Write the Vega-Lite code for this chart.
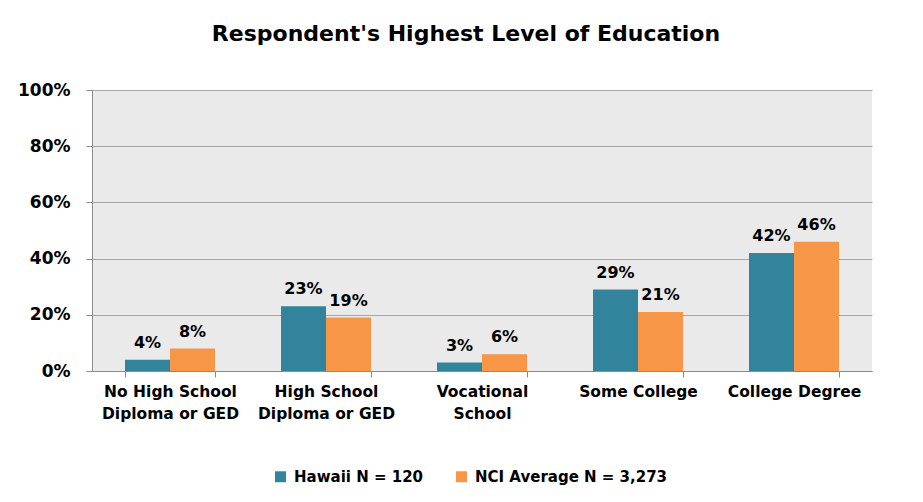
{
  "$schema": "https://vega.github.io/schema/vega-lite/v6.json",
  "width": 780,
  "height": 281,
  "autosize": {"type": "none"},
  "padding": {"left": 92, "top": 90, "right": 51, "bottom": 131},
  "background": "white",
  "title": {
    "text": "Respondent's Highest Level of Education",
    "font": "DejaVu Sans",
    "fontSize": 22,
    "fontWeight": "bold",
    "color": "#000000",
    "anchor": "middle",
    "dx": -16,
    "offset": 35
  },
  "data": {
    "values": [
      {"category": "No High School Diploma or GED", "group": "Hawaii N = 120", "value": 0.04},
      {"category": "No High School Diploma or GED", "group": "NCI Average N = 3,273", "value": 0.08},
      {"category": "High School Diploma or GED", "group": "Hawaii N = 120", "value": 0.23},
      {"category": "High School Diploma or GED", "group": "NCI Average N = 3,273", "value": 0.19},
      {"category": "Vocational School", "group": "Hawaii N = 120", "value": 0.03},
      {"category": "Vocational School", "group": "NCI Average N = 3,273", "value": 0.06},
      {"category": "Some College", "group": "Hawaii N = 120", "value": 0.29},
      {"category": "Some College", "group": "NCI Average N = 3,273", "value": 0.21},
      {"category": "College Degree", "group": "Hawaii N = 120", "value": 0.42},
      {"category": "College Degree", "group": "NCI Average N = 3,273", "value": 0.46}
    ]
  },
  "encoding": {
    "x": {
      "field": "category",
      "type": "nominal",
      "sort": null,
      "scale": {"paddingInner": 0.423, "paddingOuter": 0.2115},
      "axis": {
        "title": null,
        "labelAngle": 0,
        "labelFont": "DejaVu Sans",
        "labelFontSize": 15.5,
        "labelFontWeight": "bold",
        "labelColor": "#000000",
        "labelPadding": 7,
        "labelLineHeight": 22,
        "labelBaseline": "top",
        "labelLimit": 200,
        "labelExpr": "datum.value == 'No High School Diploma or GED' ? ['No High School', 'Diploma or GED'] : datum.value == 'High School Diploma or GED' ? ['High School', 'Diploma or GED'] : datum.value == 'Vocational School' ? ['Vocational', 'School'] : datum.value",
        "tickBand": "extent",
        "tickSize": 6,
        "tickColor": "#8C8C8C",
        "domainColor": "#8C8C8C",
        "grid": false
      }
    },
    "y": {
      "field": "value",
      "type": "quantitative",
      "scale": {"domain": [0, 1], "nice": false},
      "axis": {
        "title": null,
        "format": ".0%",
        "values": [0, 0.2, 0.4, 0.6, 0.8, 1],
        "labelFont": "DejaVu Sans",
        "labelFontSize": 17,
        "labelFontWeight": "bold",
        "labelColor": "#000000",
        "labelPadding": 16,
        "tickSize": 6,
        "tickColor": "#8C8C8C",
        "domainColor": "#8C8C8C",
        "gridColor": "#A6A6A6",
        "gridWidth": 1.2
      }
    },
    "xOffset": {"field": "group", "type": "nominal"},
    "color": {
      "field": "group",
      "type": "nominal",
      "scale": {"range": ["#31849B", "#F79646"]},
      "legend": {
        "title": null,
        "orient": "none",
        "direction": "horizontal",
        "legendX": 181,
        "legendY": 379,
        "symbolType": "square",
        "symbolSize": 120,
        "symbolStrokeWidth": 0,
        "symbolOpacity": 1,
        "labelFont": "DejaVu Sans",
        "labelFontSize": 15,
        "labelFontWeight": "bold",
        "labelColor": "#000000",
        "labelLimit": 300,
        "columnPadding": 30,
        "labelOffset": 6
      }
    }
  },
  "layer": [
    {"mark": {"type": "bar", "opacity": 1}},
    {
      "mark": {
        "type": "text",
        "baseline": "bottom",
        "dy": -9,
        "font": "DejaVu Sans",
        "fontSize": 16,
        "fontWeight": "bold",
        "color": "#000000"
      },
      "encoding": {
        "text": {"field": "value", "type": "quantitative", "format": ".0%"},
        "color": {"value": "#000000"}
      }
    }
  ],
  "config": {
    "view": {"fill": "#EAEAEA", "stroke": null}
  }
}
